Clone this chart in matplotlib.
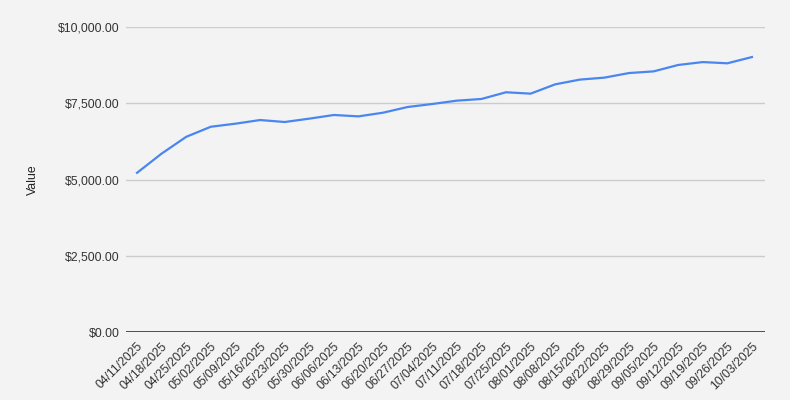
import matplotlib
matplotlib.use("Agg")
import matplotlib.pyplot as plt
from matplotlib.ticker import FuncFormatter, FixedLocator

dates = ["04/11/2025", "04/18/2025", "04/25/2025", "05/02/2025", "05/09/2025",
         "05/16/2025", "05/23/2025", "05/30/2025", "06/06/2025", "06/13/2025",
         "06/20/2025", "06/27/2025", "07/04/2025", "07/11/2025", "07/18/2025",
         "07/25/2025", "08/01/2025", "08/08/2025", "08/15/2025", "08/22/2025",
         "08/29/2025", "09/05/2025", "09/12/2025", "09/19/2025", "09/26/2025",
         "10/03/2025"]
values = [5220, 5850, 6400, 6730, 6830, 6950, 6885, 6995, 7115, 7070,
          7190, 7377, 7475, 7585, 7640, 7860, 7815, 8120, 8275, 8340,
          8490, 8545, 8755, 8850, 8810, 9015]
y_ticks = [0, 2500, 5000, 7500, 10000]

plt.rcParams['font.family'] = ['Liberation Sans', 'DejaVu Sans']
bg = '#f3f3f3'
fig = plt.figure(figsize=(7.9, 4.0), dpi=100, facecolor=bg)
ax = fig.add_axes([126/790, 1-332/400, (765-126)/790, (332-27)/400])
ax.set_facecolor(bg)

x = list(range(len(dates)))
ax.plot(x, values, color='#4a86f0', linewidth=1.6, solid_joinstyle='round')

ax.set_xlim(-0.45, len(dates) - 1 + 0.53)
ax.set_ylim(0, 10000)
ax.yaxis.set_major_locator(FixedLocator(y_ticks))
ax.yaxis.set_major_formatter(FuncFormatter(lambda v, p: f"${v:,.2f}"))
ax.grid(axis='y', color='#cccccc', linewidth=1)
ax.axhline(0, color='#333333', linewidth=1.2, zorder=3)
ax.set_xticks(x)
ax.set_xticklabels(dates, rotation=45, ha='right', rotation_mode='anchor')
for s in ax.spines.values():
    s.set_visible(False)
ax.tick_params(axis='both', length=0, labelsize=8.8, colors='#333333')
ax.tick_params(axis='y', pad=4.5)
ax.tick_params(axis='x', pad=6)
ax.set_ylabel("Value", fontsize=8.8, color='#222222', labelpad=14)
ax.set_axisbelow(True)

fig.savefig("out.png", dpi=100, facecolor=bg)
